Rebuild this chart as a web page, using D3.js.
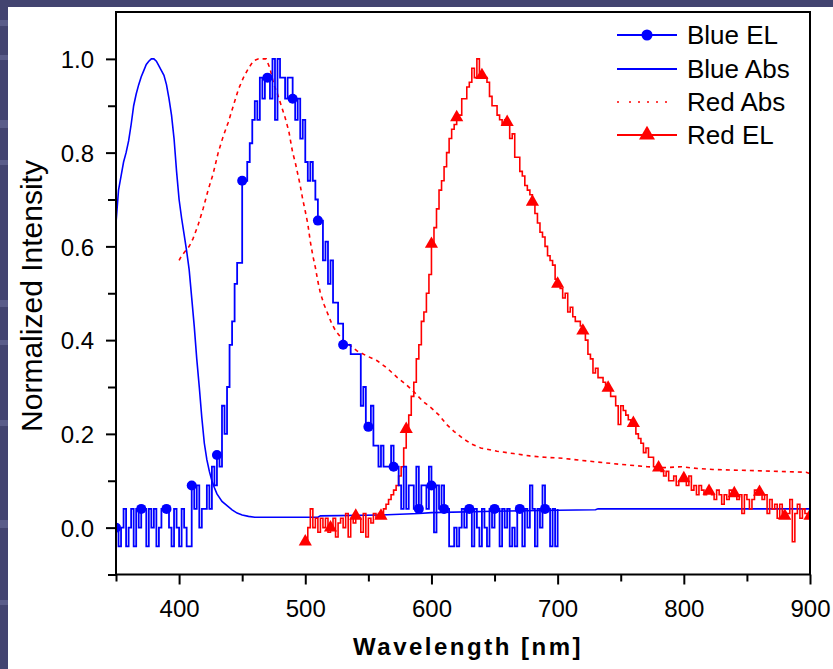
<!DOCTYPE html>
<html>
<head>
<meta charset="utf-8">
<script src="https://cdn.jsdelivr.net/npm/d3@7"></script>
<style>
  html, body { margin: 0; padding: 0; background: #434470; }
  svg { display: block; }
  text { font-family: "Liberation Sans", Arial, sans-serif; fill: #000; }
</style>
</head>
<body>
<svg id="chart" width="833" height="669"></svg>
<script>
// ---------------- DATA ----------------
const xTicksMajor = [400, 500, 600, 700, 800, 900];
const xTicksMinor = [350, 450, 550, 650, 750, 850];
const yTicksMajor = [0.0, 0.2, 0.4, 0.6, 0.8, 1.0];
const yTicksMinor = [-0.1, 0.1, 0.3, 0.5, 0.7, 0.9];
const xLabel = "Wavelength [nm]";
const yLabel = "Normalized Intensity";
const legendLabels = ["Blue EL", "Blue Abs", "Red Abs", "Red EL"];

// Blue EL, 350..700 nm, every 2 nm
const blueELStart = 350, blueELStep = 2;
const blueELValues = [
  0.0, -0.04, 0.0, 0.04, -0.04, 0.0, 0.04, -0.04, 0.04, 0.0,
  0.04, 0.04, -0.04, 0.04, 0.0, 0.04, -0.04, 0.0, 0.04, 0.04,
  0.04, 0.0, -0.04, 0.04, 0.0, -0.04, 0.04, 0.0, -0.04, -0.04,
  0.09, 0.04, 0.09, 0.0, 0.04, 0.04, 0.09, 0.04, 0.13, 0.09,
  0.155, 0.13, 0.26, 0.2, 0.3, 0.39, 0.44, 0.52, 0.565, 0.565,
  0.74, 0.74, 0.78, 0.82, 0.87, 0.91, 0.87, 0.96, 0.915, 0.96,
  0.96, 0.915, 1.0, 0.87, 1.0, 0.96, 0.96, 0.915, 0.96, 0.96,
  0.915, 0.87, 0.915, 0.83, 0.87, 0.78, 0.74, 0.78, 0.74, 0.70,
  0.655, 0.655, 0.57, 0.61, 0.52, 0.57, 0.48, 0.48, 0.435, 0.435,
  0.39, 0.39, 0.39, 0.37, 0.37, 0.37, 0.37, 0.26, 0.3, 0.22,
  0.215, 0.26, 0.175, 0.175, 0.13, 0.175, 0.13, 0.13, 0.13, 0.175,
  0.13, 0.13, 0.09, 0.04, 0.13, 0.04, 0.09, 0.09, 0.04, 0.13,
  0.04, 0.09, 0.09, 0.04, 0.13, 0.09, -0.01, 0.09, 0.04, 0.09,
  0.04, 0.04, -0.04, -0.04, 0.0, -0.04, 0.0, 0.04, 0.0, 0.04,
  0.04, -0.04, 0.04, 0.0, -0.04, 0.04, 0.0, -0.04, 0.04, 0.0,
  0.04, 0.04, -0.04, 0.04, 0.0, 0.04, -0.04, 0.0, -0.04, 0.04,
  0.04, -0.04, 0.04, 0.0, 0.09, 0.04, -0.04, 0.04, 0.0, 0.09,
  0.04, 0.04, -0.04, 0.04, -0.04, 0.04
];
const blueELMarkers = [350, 370, 390, 410, 430, 450, 470, 490, 510, 530, 550, 570, 590, 600, 610, 630, 650, 670, 690];

// Red EL, 500..900 nm, every 2 nm
const redELStart = 500, redELStep = 2;
const redELValues = [
  -0.03, 0.0, 0.04, 0.0, 0.02, -0.01, 0.02, 0.0, 0.02, -0.01,
  0.0, 0.02, -0.02, 0.01, 0.02, 0.0, 0.03, -0.02, 0.02, 0.01,
  0.025, 0.02, -0.01, 0.03, -0.02, 0.02, 0.01, 0.03, 0.02, 0.03,
  0.025, 0.04, 0.05, 0.06, 0.07, 0.08, 0.09, 0.11, 0.13, 0.17,
  0.21, 0.24, 0.28, 0.31, 0.36, 0.39, 0.44, 0.46, 0.50, 0.54,
  0.605, 0.64, 0.68, 0.72, 0.74, 0.77, 0.80, 0.83, 0.85, 0.86,
  0.875, 0.88, 0.915, 0.915, 0.94, 0.95, 0.98, 0.96, 1.0, 0.97,
  0.965, 0.96, 0.95, 0.92, 0.90, 0.90, 0.88, 0.87, 0.86, 0.87,
  0.865, 0.83, 0.84, 0.79, 0.79, 0.76, 0.75, 0.73, 0.72, 0.71,
  0.695, 0.67, 0.65, 0.63, 0.62, 0.60, 0.58, 0.57, 0.56, 0.53,
  0.52, 0.51, 0.49, 0.50, 0.46, 0.47, 0.45, 0.44, 0.44, 0.43,
  0.42, 0.40, 0.37, 0.36, 0.33, 0.34, 0.32, 0.32, 0.31, 0.30,
  0.298, 0.28, 0.28, 0.26, 0.22, 0.26, 0.25, 0.24, 0.23, 0.22,
  0.223, 0.20, 0.19, 0.18, 0.16, 0.17, 0.15, 0.15, 0.13, 0.13,
  0.128, 0.12, 0.11, 0.12, 0.10, 0.10, 0.11, 0.09, 0.10, 0.10,
  0.105, 0.09, 0.11, 0.08, 0.09, 0.07, 0.09, 0.08, 0.07, 0.08,
  0.078, 0.07, 0.06, 0.08, 0.07, 0.05, 0.07, 0.06, 0.08, 0.07,
  0.073, 0.06, 0.07, 0.03, 0.07, 0.06, 0.04, 0.06, 0.08, 0.07,
  0.076, 0.06, 0.07, 0.03, 0.06, 0.04, 0.05, 0.02, 0.05, 0.03,
  0.025, 0.03, 0.06, -0.03, 0.03, 0.05, 0.02, 0.04, 0.03, 0.02,
  0.025
];
const redELMarkers = [500, 520, 540, 560, 580, 600, 620, 640, 660, 680, 700, 720, 740, 760, 780, 800, 820, 840, 860, 880, 900];

// Blue Abs (smooth)
const blueAbsWavelengths = [350, 352, 354, 356, 358, 360, 362, 364, 366, 368, 370, 372, 374, 376, 378, 380, 382, 384, 386, 388, 390, 392, 394, 396, 398, 400, 402, 404, 406, 408, 410, 412, 414, 416, 418, 420, 422, 424, 426, 428, 430, 434, 438, 442, 446, 450, 455, 460, 480, 510, 512, 560, 590, 600, 650, 700, 730, 732, 800, 900];
const blueAbsValues = [0.65, 0.72, 0.75, 0.78, 0.80, 0.825, 0.86, 0.90, 0.925, 0.945, 0.962, 0.975, 0.988, 0.995, 1.0, 1.0, 0.995, 0.985, 0.975, 0.965, 0.945, 0.915, 0.88, 0.83, 0.76, 0.70, 0.66, 0.625, 0.59, 0.55, 0.49, 0.43, 0.36, 0.30, 0.235, 0.18, 0.145, 0.12, 0.10, 0.085, 0.072, 0.056, 0.047, 0.038, 0.031, 0.027, 0.024, 0.022, 0.022, 0.022, 0.025, 0.027, 0.030, 0.032, 0.035, 0.037, 0.038, 0.040, 0.040, 0.040];

// Red Abs (smooth, dotted)
const redAbsWavelengths = [400, 402, 405, 408, 411, 415, 419, 423, 427, 431, 435, 439, 443, 447, 451, 455, 459, 463, 469, 472, 475, 478, 481, 484, 487, 490, 492, 494, 496, 498, 500, 502, 504, 506, 508, 510, 512, 515, 518, 521, 524, 527, 530, 535, 541, 549, 557, 565, 573, 580, 586, 593, 600, 606, 612, 618, 625, 632, 639, 652, 665, 678, 690, 704, 717, 731, 750, 771, 785, 798, 811, 823, 850, 875, 897, 900];
const redAbsValues = [0.57, 0.58, 0.59, 0.60, 0.616, 0.645, 0.68, 0.72, 0.755, 0.80, 0.835, 0.865, 0.90, 0.935, 0.96, 0.98, 0.996, 1.0, 1.0, 0.98, 0.946, 0.925, 0.90, 0.875, 0.845, 0.80, 0.78, 0.755, 0.73, 0.70, 0.675, 0.648, 0.61, 0.58, 0.555, 0.525, 0.50, 0.475, 0.455, 0.435, 0.42, 0.41, 0.40, 0.39, 0.377, 0.366, 0.356, 0.34, 0.32, 0.305, 0.29, 0.27, 0.255, 0.24, 0.22, 0.205, 0.19, 0.178, 0.17, 0.163, 0.158, 0.153, 0.15, 0.148, 0.144, 0.14, 0.135, 0.13, 0.128, 0.13, 0.126, 0.124, 0.122, 0.12, 0.118, 0.115];

// ---------------- BUILD ----------------
const blueEL = blueELValues.map((v, i) => ({x: blueELStart + i * blueELStep, y: v}));
const redEL = redELValues.map((v, i) => ({x: redELStart + i * redELStep, y: v}));
const blueAbs = blueAbsWavelengths.map((w, i) => ({x: w, y: blueAbsValues[i]}));
const redAbs = redAbsWavelengths.map((w, i) => ({x: w, y: redAbsValues[i]}));
const pick = (arr, ws) => ws.map(w => arr.find(d => d.x === w)).filter(Boolean);

const BLUE = "#0000ff", RED = "#ff0000";
const svg = d3.select("#chart");

// background & white panel
svg.append("rect").attr("width", 833).attr("height", 669).attr("fill", "#434470");
const stripes = [[20, 6], [55, 5], [120, 8], [160, 5], [300, 7], [340, 5], [420, 6], [520, 8], [600, 5]];
svg.selectAll("rect.stripe").data(stripes).join("rect").attr("class", "stripe")
  .attr("x", 0).attr("y", d => d[0]).attr("width", 8).attr("height", d => d[1]).attr("fill", "#5a5c89");
svg.append("rect").attr("x", 8).attr("y", 7).attr("width", 825).attr("height", 662).attr("fill", "#ffffff");

const L = 116, R = 810, T = 12, B = 574.5;
const x = d3.scaleLinear().domain([350, 900]).range([L, R]);
const y = d3.scaleLinear().domain([-0.1, 1.1]).range([B, T]);

svg.append("clipPath").attr("id", "clip").append("rect")
  .attr("x", L).attr("y", T).attr("width", R - L).attr("height", B - T);
const plot = svg.append("g").attr("clip-path", "url(#clip)");

const line = d3.line().x(d => x(d.x)).y(d => y(d.y));

// Red Abs dotted
plot.append("path").datum(redAbs).attr("d", line).attr("fill", "none")
  .attr("stroke", RED).attr("stroke-width", 1.6).attr("stroke-dasharray", "4,4");
// Blue Abs
plot.append("path").datum(blueAbs).attr("d", line).attr("fill", "none")
  .attr("stroke", BLUE).attr("stroke-width", 1.6);
// Red EL
plot.append("path").datum(redEL).attr("d", line.curve(d3.curveStepAfter)).attr("fill", "none")
  .attr("stroke", RED).attr("stroke-width", 1.6);
// Blue EL
plot.append("path").datum(blueEL).attr("d", line.curve(d3.curveStepAfter)).attr("fill", "none")
  .attr("stroke", BLUE).attr("stroke-width", 1.8);

const tri = d3.symbol().type(d3.symbolTriangle).size(75);
plot.selectAll("path.rm").data(pick(redEL, redELMarkers)).join("path").attr("class", "rm")
  .attr("d", tri).attr("transform", d => `translate(${x(d.x)},${y(d.y)})`).attr("fill", RED);
plot.selectAll("circle.bm").data(pick(blueEL, blueELMarkers)).join("circle").attr("class", "bm")
  .attr("cx", d => x(d.x)).attr("cy", d => y(d.y)).attr("r", 5).attr("fill", BLUE);

// frame
svg.append("rect").attr("x", L).attr("y", T).attr("width", R - L).attr("height", B - T)
  .attr("fill", "none").attr("stroke", "#000").attr("stroke-width", 2);

// axes
const gx = svg.append("g").attr("transform", `translate(0,${B})`);
gx.call(d3.axisBottom(x).tickValues(xTicksMajor).tickSize(10).tickPadding(15).tickFormat(d3.format("d")));
const gxm = svg.append("g").attr("transform", `translate(0,${B})`);
gxm.call(d3.axisBottom(x).tickValues(xTicksMinor).tickSize(7).tickFormat(""));
const gy = svg.append("g").attr("transform", `translate(${L},0)`);
gy.call(d3.axisLeft(y).tickValues(yTicksMajor).tickSize(10).tickPadding(12).tickFormat(d3.format(".1f")));
const gym = svg.append("g").attr("transform", `translate(${L},0)`);
gym.call(d3.axisLeft(y).tickValues(yTicksMinor).tickSize(8).tickFormat(""));
[gx, gxm, gy, gym].forEach(g => {
  g.select(".domain").remove();
  g.selectAll(".tick line").attr("stroke", "#000").attr("stroke-width", 2);
  g.selectAll("text").attr("font-size", 24).attr("fill", "#000")
    .attr("font-family", "'Liberation Sans', Arial, sans-serif");
});
gy.selectAll("text").attr("dy", "0.36em");

// axis titles
svg.append("text").attr("x", 468).attr("y", 655).attr("text-anchor", "middle")
  .attr("font-size", 24).attr("font-weight", "bold").attr("letter-spacing", 2.5).text(xLabel);
svg.append("text").attr("transform", "translate(42,296) rotate(-90)").attr("text-anchor", "middle")
  .attr("font-size", 30).text(yLabel);

// legend
const lg = svg.append("g");
const rowsY = [35, 69, 102, 135];
const lx1 = 617, lx2 = 677, lxm = 647;
rowsY.forEach((ry, i) => {
  const ln = lg.append("line").attr("x1", lx1).attr("x2", lx2).attr("y1", ry).attr("y2", ry)
    .attr("stroke", i < 2 ? BLUE : RED).attr("stroke-width", 1.8);
  if (i === 2) ln.attr("stroke-dasharray", "2,10,2,7,2,7,2,7,2,7").attr("stroke-width", 1.5);
  lg.append("text").attr("x", 687).attr("y", ry + 9).attr("font-size", 26).text(legendLabels[i]);
});
lg.append("circle").attr("cx", lxm).attr("cy", rowsY[0]).attr("r", 5.5).attr("fill", BLUE);
lg.append("path").attr("d", d3.symbol().type(d3.symbolTriangle).size(110)).attr("fill", RED)
  .attr("transform", `translate(${lxm},${rowsY[3]})`);
</script>
</body>
</html>
